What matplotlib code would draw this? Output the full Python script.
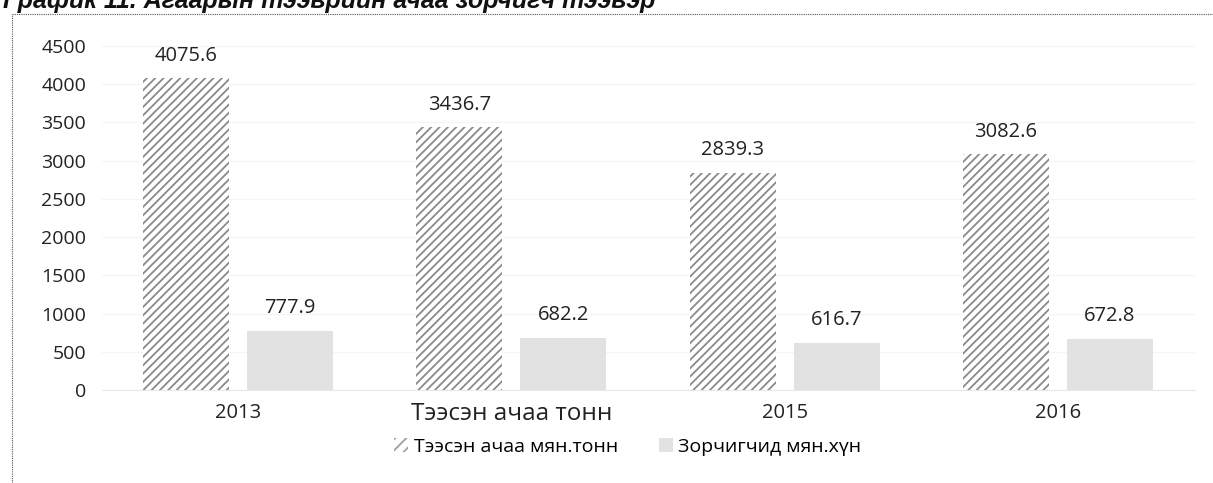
import matplotlib
matplotlib.use("Agg")
import matplotlib.pyplot as plt
from matplotlib.patches import Patch
from matplotlib.lines import Line2D
import numpy as np

categories = ["2013", "Тээсэн ачаа тонн", "2015", "2016"]
cargo = [4075.6, 3436.7, 2839.3, 3082.6]
passengers = [777.9, 682.2, 616.7, 672.8]
series_names = ["Тээсэн ачаа мян.тонн", "Зорчигчид мян.хүн"]
yticks = [0, 500, 1000, 1500, 2000, 2500, 3000, 3500, 4000, 4500]
title = "График 11. Агаарын тээврийн ачаа зорчигч тээвэр"

plt.rcParams['font.family'] = ['Open Sans', 'DejaVu Sans']
plt.rcParams['hatch.linewidth'] = 1.3
plt.rcParams['hatch.color'] = '#8a8a8a'

W, H = 1213, 483
fig = plt.figure(figsize=(W / 100, H / 100), dpi=100)
ax = fig.add_axes([101.5 / W, 1 - 390 / H, 1093 / W, 344 / H])

x = np.arange(len(categories))
bw = 0.315
off = 0.19
b1 = ax.bar(x - off, cargo, bw, facecolor='white', edgecolor='#8a8a8a',
            linewidth=0, hatch='////', label=series_names[0])
b2 = ax.bar(x + off, passengers, bw, color='#e2e2e2', linewidth=0,
            label=series_names[1])

for rect, v in zip(list(b1) + list(b2), cargo + passengers):
    ax.annotate(f"{v:.1f}", (rect.get_x() + rect.get_width() / 2, rect.get_height()),
                xytext=(0, 9), textcoords='offset points', ha='center', va='bottom',
                fontsize=14.5, color='#222222')

ax.set_xlim(-0.5, len(categories) - 0.5)
ax.set_ylim(0, 4500)
ax.set_yticks(yticks)
ax.set_yticklabels([str(t) for t in yticks], fontsize=14, color='#222222')
ax.set_xticks(x)
ax.set_xticklabels(categories, fontsize=14.5, color='#222222')
ax.get_xticklabels()[1].set_fontsize(17.5)
ax.tick_params(axis='both', length=0)
ax.tick_params(axis='y', pad=11)
ax.tick_params(axis='x', pad=9)
for s in ['top', 'right', 'left']:
    ax.spines[s].set_visible(False)
ax.spines['bottom'].set_color('#e8e8e8')
ax.yaxis.grid(True, color='#f4f4f4', linewidth=0.8)
ax.set_axisbelow(True)

handles = [Patch(facecolor='white', edgecolor='#a0a0a0', linewidth=0, hatch='///'),
           Patch(facecolor='#e2e2e2', linewidth=0)]
fig.legend(handles, series_names, loc='center', bbox_to_anchor=(628 / W, 1 - 447 / H),
           ncol=2, frameon=False, fontsize=14, handlelength=0.7, handleheight=0.7,
           handletextpad=0.3, columnspacing=2.1)

# dotted border
fig.add_artist(Line2D([12 / W, 1], [1 - 14 / H, 1 - 14 / H], transform=fig.transFigure,
                      color='#555555', linewidth=0.8, linestyle=(0, (1, 1))))
fig.add_artist(Line2D([12 / W, 12 / W], [0, 1 - 14 / H], transform=fig.transFigure,
                      color='#555555', linewidth=0.8, linestyle=(0, (1, 1))))

# title, clipped at the top edge as in the reference
fig.text(3 / W, 1 - 8 / H, title, fontsize=18, fontweight='bold', style='italic',
         ha='left', va='baseline', color='#111111',
         family=['Liberation Sans', 'DejaVu Sans'])

fig.savefig("out.png", dpi=100)
